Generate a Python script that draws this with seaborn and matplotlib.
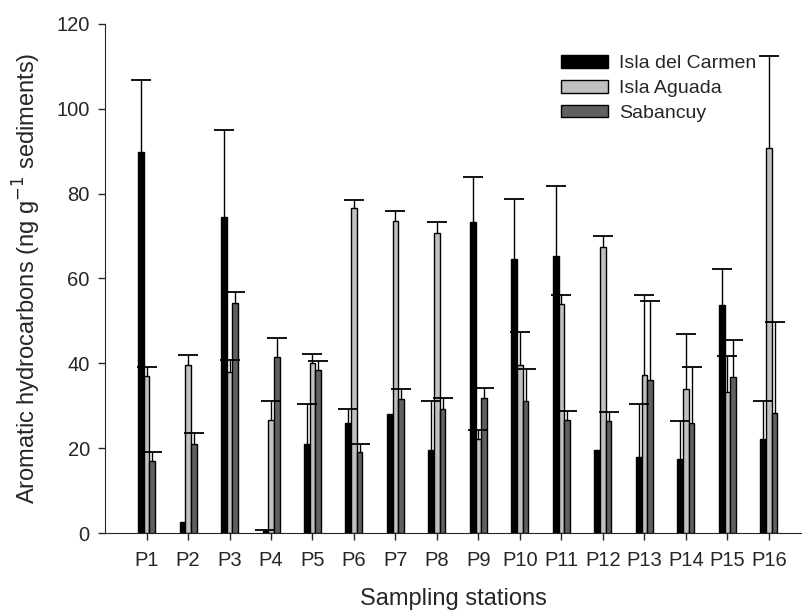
import numpy as np
import pandas as pd
import matplotlib
matplotlib.use("Agg")
import matplotlib.pyplot as plt
import seaborn as sns

stations = ["P%d" % i for i in range(1, 17)]
sites = ["Isla del Carmen", "Isla Aguada", "Sabancuy"]

# mean values (ng g-1)
carmen = [89.7, 2.6, 74.6, 0.5, 21.0, 26.0, 28.0, 19.5, 73.2, 64.6, 65.3, 19.5, 18.0, 17.5, 53.8, 22.2]
aguada = [37.0, 39.5, 38.0, 26.7, 40.0, 76.6, 73.6, 70.8, 22.2, 39.6, 54.0, 67.5, 37.3, 33.9, 33.2, 90.7]
sabancuy = [17.0, 21.0, 54.2, 41.5, 38.5, 19.0, 31.6, 29.2, 31.9, 31.0, 26.6, 26.3, 36.0, 26.0, 36.8, 28.2]

# upper end of the error bars
carmen_top = [106.8, 2.6, 95.0, 0.8, 30.3, 29.2, 28.0, 31.2, 84.0, 78.8, 81.8, 19.5, 30.5, 26.5, 62.3, 31.0]
aguada_top = [39.2, 42.0, 40.7, 31.0, 42.2, 78.6, 76.0, 73.2, 24.2, 47.3, 56.1, 69.9, 56.0, 46.8, 41.8, 112.5]
sabancuy_top = [19.2, 23.5, 56.8, 46.0, 40.6, 21.0, 34.0, 31.8, 34.1, 38.7, 28.7, 28.5, 54.8, 39.1, 45.4, 49.8]

colors = ["#000000", "#c0c0c0", "#606060"]

df = pd.DataFrame({
    "station": stations * 3,
    "site": np.repeat(sites, len(stations)),
    "value": carmen + aguada + sabancuy,
    "top": carmen_top + aguada_top + sabancuy_top,
})

sns.set_style("ticks")
plt.rcParams["font.family"] = ["Liberation Sans", "DejaVu Sans"]

fig = plt.figure(figsize=(8.02, 6.13), dpi=100)
ax = fig.add_axes([0.131, 0.1305, 0.868, 0.8305])

sns.barplot(data=df, x="station", y="value", hue="site", hue_order=sites,
            palette=colors, width=0.41, errorbar=None, edgecolor="black",
            linewidth=1, saturation=1, ax=ax)

# one-sided (upper) error bars with a cap only at the top
tops = [carmen_top, aguada_top, sabancuy_top]
for cont, top in zip(ax.containers, tops):
    for b, t in zip(cont, top):
        x = b.get_x() + b.get_width() / 2
        h = b.get_height()
        if t - h <= 0.05:
            continue
        ax.plot([x, x], [h, t], color="black", lw=1, zorder=1)
        ax.plot([x], [t], marker="_", markersize=14, mew=1.3, color="black", zorder=3)

ax.set_xlim(-1, 15.78)
ax.set_ylim(0, 120)
ax.set_yticks(range(0, 121, 20))
ax.tick_params(labelsize=14.5, length=5, width=1, direction="out")
ax.tick_params(axis="x", pad=8)
ax.tick_params(axis="y", pad=6)
ax.set_xlabel("Sampling stations", fontsize=17, labelpad=13)
ax.set_ylabel("Aromatic hydrocarbons (ng g$^{-1}$ sediments)", fontsize=17, labelpad=10)
for s in ["top", "right"]:
    ax.spines[s].set_visible(False)

ax.legend(frameon=False, fontsize=14, loc="upper left",
          bbox_to_anchor=(561 / 802, 1 - 55 / 613), bbox_transform=fig.transFigure,
          borderpad=0, borderaxespad=0, handlelength=2.4, handleheight=0.62,
          handletextpad=0.6, labelspacing=0.4)

fig.savefig("out.png", dpi=100)
